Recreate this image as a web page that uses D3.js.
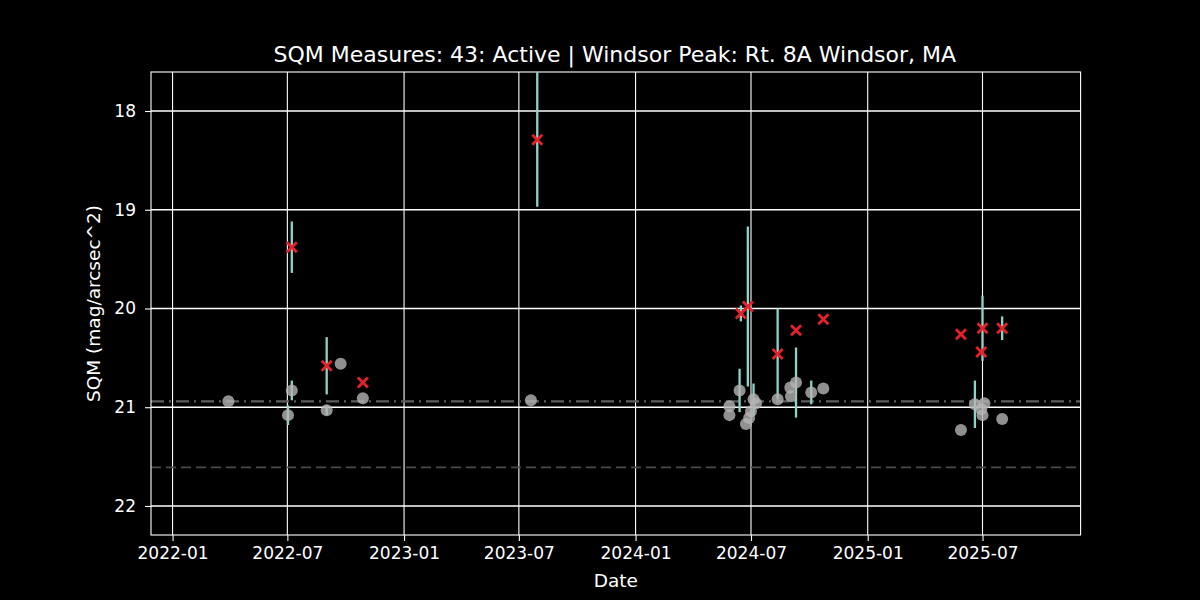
<!DOCTYPE html>
<html>
<head>
<meta charset="utf-8">
<script src="https://cdn.jsdelivr.net/npm/d3@7"></script>
<style>
  html, body { margin: 0; padding: 0; background: #000; }
  svg { display: block; font-family: "DejaVu Sans", sans-serif; }
</style>
</head>
<body>
<svg id="chart" width="1200" height="600"></svg>
<script>
const TITLE = "SQM Measures: 43: Active | Windsor Peak: Rt. 8A Windsor, MA";

// gray circles: individual readings
const grayDates = [
  "2022-03-30", "2022-07-02", "2022-07-08", "2022-09-01", "2022-09-23", "2022-10-28",
  "2023-07-20",
  "2024-05-28", "2024-05-28", "2024-06-13", "2024-06-23", "2024-06-28", "2024-07-01",
  "2024-07-05", "2024-07-09", "2024-08-12", "2024-09-01", "2024-09-02", "2024-09-10",
  "2024-10-04", "2024-10-23",
  "2025-05-28", "2025-06-19", "2025-06-29", "2025-07-01", "2025-07-04", "2025-08-01",
];
const grayValues = [
  20.94, 21.08, 20.83, 21.03, 20.56, 20.91,
  20.93,
  20.99, 21.08, 20.83, 21.17, 21.11, 21.04,
  20.92, 20.96, 20.92, 20.80, 20.89, 20.75,
  20.85, 20.81,
  21.23, 20.97, 21.02, 21.08, 20.96, 21.12,
];
const grayErrors = [
  0, 0.1, 0.1, 0.05, 0, 0,
  0,
  0, 0, 0.22, 0, 0, 0,
  0.16, 0, 0, 0, 0, 0.355,
  0.12, 0,
  0, 0.24, 0, 0, 0, 0,
];

// red crosses: flagged readings
const redDates = [
  "2022-07-08", "2022-09-01", "2022-10-28",
  "2023-07-30",
  "2024-06-15", "2024-06-26", "2024-08-12", "2024-09-10", "2024-10-23",
  "2025-05-28", "2025-06-29", "2025-07-01", "2025-08-01",
];
const redValues = [
  19.38, 20.58, 20.75,
  18.29,
  20.05, 19.98, 20.46, 20.22, 20.11,
  20.26, 20.44, 20.20, 20.20,
];
const redErrors = [
  0.26, 0.29, 0,
  0.68,
  0.08, 0.81, 0.46, 0, 0,
  0, 0, 0.33, 0.12,
];

const medianLevel = 20.94;
const darkLevel = 21.61;

const yTicks = [18, 19, 20, 21, 22];
const xDomain = ["2021-11-28", "2025-12-02T16:00"];
const yDomain = [17.605, 22.294];

const W = 1200, H = 600;
const margin = { top: 72, right: 119.4, bottom: 65, left: 151 };
const innerW = W - margin.left - margin.right;
const innerH = H - margin.top - margin.bottom;

const parse = d3.isoParse;

const grays = grayDates.map((d, i) => ({ date: parse(d), value: grayValues[i], err: grayErrors[i] }));
const reds = redDates.map((d, i) => ({ date: parse(d), value: redValues[i], err: redErrors[i] }));

const svg = d3.select("#chart");
svg.append("rect").attr("width", W).attr("height", H).attr("fill", "#000");

const x = d3.scaleTime().domain(xDomain.map(parse)).range([0, innerW]);
const y = d3.scaleLinear().domain(yDomain).range([0, innerH]);

const g = svg.append("g").attr("transform", `translate(${margin.left},${margin.top})`);

g.append("clipPath").attr("id", "plotClip")
  .append("rect").attr("width", innerW).attr("height", innerH);

const xTickDates = d3.timeMonth.every(6).range(parse("2022-01-01"), parse("2025-08-01"));

// grid
g.append("g")
  .selectAll("line")
  .data(xTickDates)
  .join("line")
  .attr("x1", (d) => x(d)).attr("x2", (d) => x(d))
  .attr("y1", 0).attr("y2", innerH)
  .attr("stroke", "#fff").attr("stroke-width", 1.1);

g.append("g")
  .selectAll("line")
  .data(yTicks)
  .join("line")
  .attr("x1", 0).attr("x2", innerW)
  .attr("y1", (d) => y(d)).attr("y2", (d) => y(d))
  .attr("stroke", "#fff").attr("stroke-width", 1.6);

// reference levels
g.append("line")
  .attr("x1", 0).attr("x2", innerW)
  .attr("y1", y(medianLevel)).attr("y2", y(medianLevel))
  .attr("stroke", "#5e5e5e").attr("stroke-width", 2.2)
  .attr("stroke-dasharray", "13,5,2,5");

g.append("line")
  .attr("x1", 0).attr("x2", innerW)
  .attr("y1", y(darkLevel)).attr("y2", y(darkLevel))
  .attr("stroke", "#4a4a4a").attr("stroke-width", 1.8)
  .attr("stroke-dasharray", "10,5");

const plot = g.append("g").attr("clip-path", "url(#plotClip)");

// error bars
const barColor = "#8dd3c7";
plot.append("g")
  .selectAll("line")
  .data(grays.concat(reds).filter((d) => d.err > 0))
  .join("line")
  .attr("x1", (d) => x(d.date)).attr("x2", (d) => x(d.date))
  .attr("y1", (d) => y(d.value - d.err)).attr("y2", (d) => y(d.value + d.err))
  .attr("stroke", barColor).attr("stroke-width", 2.3);

// gray circles
plot.append("g")
  .selectAll("circle")
  .data(grays)
  .join("circle")
  .attr("cx", (d) => x(d.date))
  .attr("cy", (d) => y(d.value))
  .attr("r", 6)
  .attr("fill", "#b4b4b4")
  .attr("fill-opacity", 0.8);

// red crosses
const xs = 5;
plot.append("g")
  .selectAll("path")
  .data(reds)
  .join("path")
  .attr("d", (d) => {
    const cx = x(d.date), cy = y(d.value);
    return `M${cx - xs},${cy - xs}L${cx + xs},${cy + xs}M${cx - xs},${cy + xs}L${cx + xs},${cy - xs}`;
  })
  .attr("stroke", "#e8202a")
  .attr("stroke-width", 2.8)
  .attr("fill", "none");

// frame
g.append("rect")
  .attr("width", innerW).attr("height", innerH)
  .attr("fill", "none").attr("stroke", "#fff").attr("stroke-width", 1.1);

// axes
const xAxis = g.append("g")
  .attr("transform", `translate(0,${innerH})`)
  .call(d3.axisBottom(x).tickValues(xTickDates).tickFormat(d3.timeFormat("%Y-%m")).tickSize(6).tickPadding(6));

const yAxis = g.append("g")
  .call(d3.axisLeft(y).tickValues(yTicks).tickFormat(d3.format("d")).tickSize(6).tickPadding(9));

[xAxis, yAxis].forEach((ax) => {
  ax.select(".domain").remove();
  ax.selectAll(".tick line").attr("stroke", "#fff").attr("stroke-width", 1.1);
  ax.selectAll(".tick text")
    .attr("fill", "#fff")
    .style("font-size", "17px")
    .style("font-family", "DejaVu Sans, sans-serif");
});

// labels
svg.append("text")
  .attr("x", margin.left + innerW / 2 - 1).attr("y", 62)
  .attr("text-anchor", "middle")
  .attr("fill", "#fff")
  .style("font-size", "22px")
  .text(TITLE);

svg.append("text")
  .attr("x", margin.left + innerW / 2).attr("y", 587)
  .attr("text-anchor", "middle")
  .attr("fill", "#fff")
  .style("font-size", "18.5px")
  .text("Date");

svg.append("text")
  .attr("transform", `translate(100,${margin.top + innerH / 2}) rotate(-90)`)
  .attr("text-anchor", "middle")
  .attr("fill", "#fff")
  .style("font-size", "18.5px")
  .text("SQM (mag/arcsec^2)");
</script>
</body>
</html>
